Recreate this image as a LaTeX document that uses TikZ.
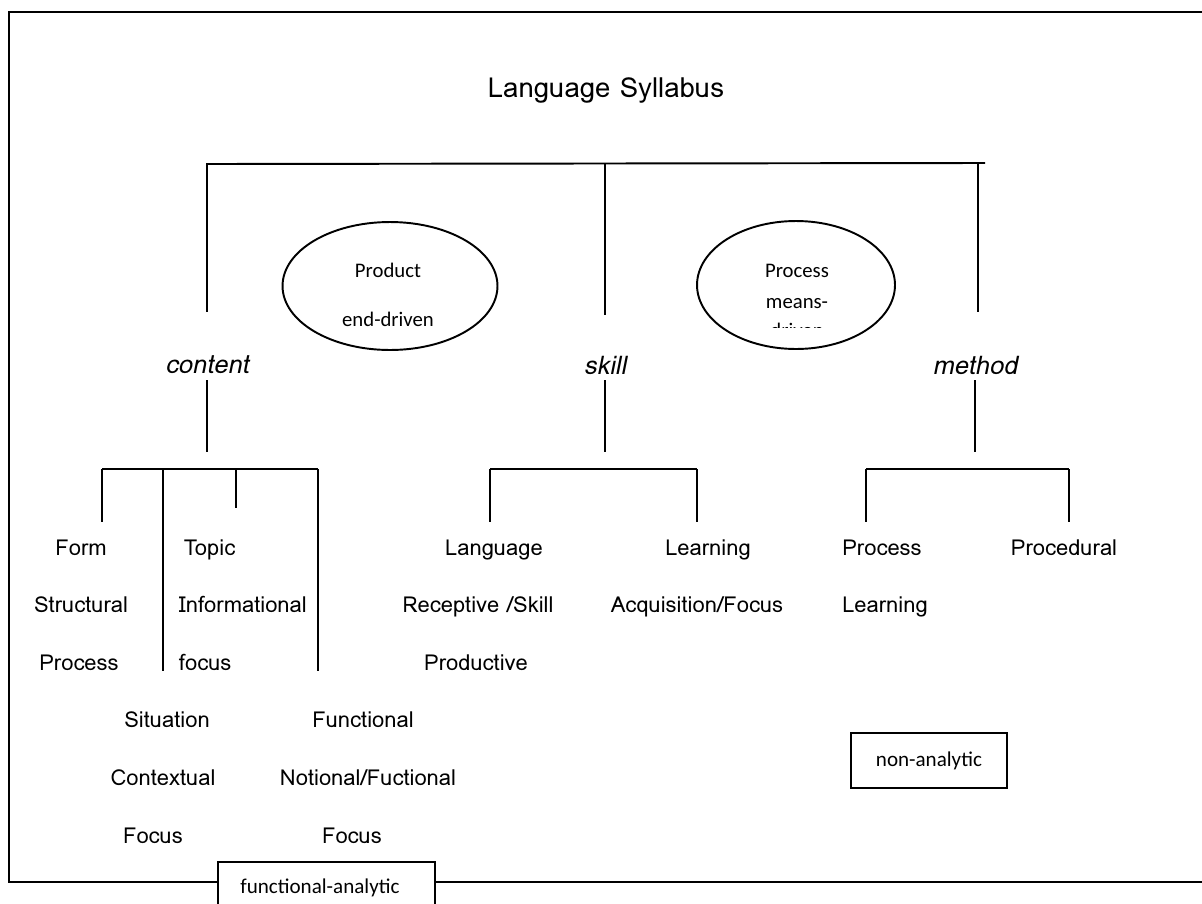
\documentclass[tikz,border=0pt]{standalone}
\usepackage{fontspec}
\setmainfont{Carlito}
\newfontfamily\labelfont{Loma}
\newfontfamily\headfont[FakeSlant=0.2]{Loma}
\usepackage{tikz}
\usetikzlibrary{positioning, shapes.geometric}

\begin{document}
\begin{tikzpicture}[
  x=0.02cm, y=-0.02cm,
  line width=1.1pt,
  node distance=1.152cm, on grid,
  txt/.style={font=\labelfont\fontsize{12.5}{15}\selectfont, inner sep=0pt, text height=1.6ex, text depth=.4ex},
  head/.style={font=\headfont\fontsize{14.5}{17}\selectfont, inner sep=0pt},
  oval/.style={ellipse, draw, inner sep=0pt, minimum height=2.56cm},
  ovaltxt/.style={font=\fontsize{11.8}{14}\selectfont, inner sep=0pt, anchor=base},
  tag/.style={rectangle, draw, fill=white, inner sep=0pt, font=\fontsize{12}{14}\selectfont}
]

\useasboundingbox (0,0) rectangle (1202,903);

% frame, open on the right
\coordinate (fr-tr) at (1202,12);
\coordinate (fr-tl) at (9,12);
\coordinate (fr-bl) at (9,882);
\coordinate (fr-br) at (1202,882);
\draw (fr-tr) -- (fr-tl) -- (fr-bl) -- (fr-br);

\node[font=\labelfont\fontsize{15.7}{19}\selectfont, inner sep=0pt, anchor=base] (title) at (606,97) {Language Syllabus};

% main branches
\coordinate (bar-l) at (207,164);
\coordinate (bar-r) at (985,163);
\draw (bar-l) -- (bar-r);
\foreach \n/\x/\y in {content/207/312, skill/605/315, method/978/312} {
  \coordinate (drop-\n-a) at (\x,163);
  \coordinate (drop-\n-b) at (\x,\y);
  \draw (drop-\n-a) -- (drop-\n-b);
}

\node[head] (content) at (207,365) {content};
\node[head] (skill) at (605,365) {skill};
\node[head] (method) at (975,365) {method};

\foreach \n/\x in {content/207, skill/605, method/975} {
  \coordinate (stem-\n-a) at (\x,380);
  \coordinate (stem-\n-b) at (\x,452);
  \draw (stem-\n-a) -- (stem-\n-b);
}

% ovals
\node[oval, minimum width=4.3cm] (product) at (390,286) {};
\node[ovaltxt] (product-a) at (388,277) {Product};
\node[ovaltxt] (product-b) at (388,326) {end-driven};

\node[oval, minimum width=3.96cm] (process) at (796,285) {};
\node[ovaltxt] (process-a) at (797,277) {Process};
\node[ovaltxt] (process-b) at (797,308) {means-};
\begin{scope}
  \clip (720,300) rectangle (870,327);
  \node[ovaltxt] (process-c) at (797,337) {driven};
\end{scope}

% content branch
\coordinate (cbar-l) at (102,469);
\coordinate (cbar-r) at (318,469);
\draw (cbar-l) -- (cbar-r);
\foreach \n/\x/\y in {a/102/522, b/163/671, c/236/508, d/318/671} {
  \coordinate (cdrop-\n-a) at (\x,469);
  \coordinate (cdrop-\n-b) at (\x,\y);
  \draw (cdrop-\n-a) -- (cdrop-\n-b);
}

\node[txt] (form) at (81,550) {Form};
\node[txt] (structural) [below=of form] {Structural};
\node[txt] (process-t) at (79,665.2) {Process};

\node[txt, anchor=west] (topic) at (183,550) {Topic};
\node[txt, anchor=west] (informational) at (178,607.6) {Informational};
\node[txt, anchor=west] (focus-t) at (178,665.2) {focus};

\node[txt] (situation) at (167,722.8) {Situation};
\node[txt] (contextual) at (163,780.4) {Contextual};
\node[txt] (focus-s) at (153,838) {Focus};

\node[txt] (functional) at (363,722.8) {Functional};
\node[txt] (notional) at (368,780.4) {Notional/Fuctional};
\node[txt] (focus-f) at (352,838) {Focus};

\node[tag, minimum width=4.34cm, minimum height=1.2cm] (analytic) at (326.5,892) {};
\node[font=\fontsize{12}{14}\selectfont, inner sep=0pt] (analytic-t) at (320,888) {functional-analytic};

% skill branch
\coordinate (sbar-l) at (490,469);
\coordinate (sbar-r) at (697,469);
\draw (sbar-l) -- (sbar-r);
\foreach \n/\x in {a/490, b/697} {
  \coordinate (sdrop-\n-a) at (\x,469);
  \coordinate (sdrop-\n-b) at (\x,522);
  \draw (sdrop-\n-a) -- (sdrop-\n-b);
}

\node[txt] (language) at (494,550) {Language};
\node[txt] (receptive) at (478,607.6) {Receptive /Skill};
\node[txt] (productive) at (476,665.2) {Productive};
\node[txt] (learning) at (708,550) {Learning};
\node[txt] (acquisition) at (697,607.6) {Acquisition/Focus};

% method branch
\coordinate (mbar-l) at (866,469);
\coordinate (mbar-r) at (1069,469);
\draw (mbar-l) -- (mbar-r);
\foreach \n/\x in {a/866, b/1069} {
  \coordinate (mdrop-\n-a) at (\x,469);
  \coordinate (mdrop-\n-b) at (\x,522);
  \draw (mdrop-\n-a) -- (mdrop-\n-b);
}

\node[txt] (process-m) at (882,550) {Process};
\node[txt] (procedural) at (1064,550) {Procedural};
\node[txt] (learning-m) at (885,607.6) {Learning};

\node[tag, minimum width=3.12cm, minimum height=1.1cm] (nonanalytic) at (929,760.5) {non-analytic};

\end{tikzpicture}
\end{document}
